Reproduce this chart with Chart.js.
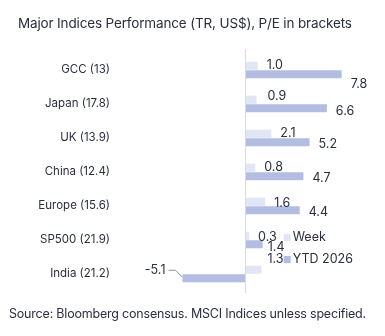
<!DOCTYPE html>
<html lang="en">
<head>
    <meta charset="UTF-8">
    <title>Major Indices Performance</title>
    <script src="https://cdn.jsdelivr.net/npm/chart.js"></script>
    <style>
        body { margin: 0; background: #fff; font-family: Inter, sans-serif; color: #2b2f3c; }
        .wrap { position: relative; width: 385px; height: 336px; }
        .title { position: absolute; left: 18px; top: 15px; font-size: 13.5px; letter-spacing: -0.15px; white-space: nowrap; }
        .source { position: absolute; left: 9px; top: 306px; font-size: 12.5px; letter-spacing: -0.2px; white-space: nowrap; }
        canvas { position: absolute; left: 0; top: 0; }
    </style>
</head>
<body>
    <div class="wrap">
        <canvas id="perfChart" width="385" height="336"></canvas>
        <div class="title">Major Indices Performance (TR, US$), P/E in brackets</div>
        <div class="source">Source: Bloomberg consensus. MSCI Indices unless specified.</div>
    </div>

    <script>
        const indices = ['GCC (13)', 'Japan (17.8)', 'UK (13.9)', 'China (12.4)', 'Europe (15.6)', 'SP500 (21.9)', 'India (21.2)'];
        const weekReturns = [1.0, 0.9, 2.1, 0.8, 1.6, 0.3, 1.3];
        const ytdReturns = [7.8, 6.6, 5.2, 4.7, 4.4, 1.4, -5.1];

        // hand nudges [dx, dy] for labels that would otherwise collide
        const weekNudge = [[0, 0], [2, -3], [0, 0], [0, 0], [0, 2], [0, 2], [-3, -10]];
        const ytdNudge = [[0, 8], [0, 1], [0, 0], [0, 0], [0, 0], [-4, 1], [0, 0]];

        const labelPlugin = {
            id: 'barLabels',
            afterDatasetsDraw(chart) {
                const ctx = chart.ctx;
                const x = chart.scales.x;
                ctx.save();
                ctx.font = '12.5px Inter, sans-serif';
                ctx.fillStyle = '#2b2f3c';
                ctx.textBaseline = 'middle';

                // zero line
                const x0 = Math.round(x.getPixelForValue(0)) + 0.5;
                ctx.strokeStyle = '#d9dbe3';
                ctx.lineWidth = 1;
                ctx.beginPath();
                ctx.moveTo(x0, chart.chartArea.top - 4);
                ctx.lineTo(x0, chart.chartArea.bottom + 2);
                ctx.stroke();

                chart.data.datasets.forEach((ds, di) => {
                    const meta = chart.getDatasetMeta(di);
                    const nudge = di === 0 ? weekNudge : ytdNudge;
                    meta.data.forEach((bar, i) => {
                        const v = ds.data[i];
                        const txt = v.toFixed(1);
                        const [dx, dy] = nudge[i];
                        const baseDy = di === 0 ? -1 : 2;
                        if (v >= 0) {
                            ctx.textAlign = 'left';
                            ctx.fillText(txt, bar.x + 9 + dx, bar.y + baseDy + dy);
                        } else {
                            // negative value: label left of the bar with a small leader
                            const tx = bar.x - 17;
                            const ty = bar.y - 8;
                            ctx.textAlign = 'right';
                            ctx.fillText(txt, tx, ty);
                            ctx.strokeStyle = '#8a90a8';
                            ctx.beginPath();
                            ctx.moveTo(tx + 3, ty);
                            ctx.lineTo(tx + 10, ty);
                            ctx.lineTo(bar.x, bar.y - 1);
                            ctx.stroke();
                        }
                    });
                });

                // legend placed inside the plot, beside the SP500 / India rows
                const y = chart.scales.y;
                const lx = x.getPixelForValue(3.1);
                const rows = [y.getPixelForValue(5) - 3, y.getPixelForValue(6) - 15];
                chart.data.datasets.forEach((ds, di) => {
                    ctx.fillStyle = ds.backgroundColor;
                    ctx.fillRect(lx, rows[di] - 3, 7, 7);
                    ctx.fillStyle = '#2b2f3c';
                    ctx.textAlign = 'left';
                    ctx.fillText(ds.label, lx + 9, rows[di]);
                });
                ctx.restore();
            }
        };

        new Chart(document.getElementById('perfChart'), {
            type: 'bar',
            data: {
                labels: indices,
                datasets: [{
                    label: 'Week',
                    data: weekReturns,
                    backgroundColor: '#e1e6f6',
                    categoryPercentage: 0.5,
                    barPercentage: 0.95
                }, {
                    label: 'YTD 2026',
                    data: ytdReturns,
                    backgroundColor: '#b3bde1',
                    categoryPercentage: 0.5,
                    barPercentage: 0.95
                }]
            },
            options: {
                indexAxis: 'y',
                responsive: false,
                animation: false,
                layout: { padding: { top: 53, bottom: 45, left: 0, right: 10 } },
                plugins: {
                    legend: { display: false },
                    tooltip: { enabled: false }
                },
                scales: {
                    x: {
                        display: false,
                        min: -10,
                        max: 10.5
                    },
                    y: {
                        afterFit(scale) { scale.width = 122; },
                        grid: { display: false, drawTicks: false },
                        border: { display: false },
                        ticks: {
                            padding: 12,
                            color: '#2b2f3c',
                            font: { family: 'Inter, sans-serif', size: 11.5 }
                        }
                    }
                }
            },
            plugins: [labelPlugin]
        });
    </script>
</body>
</html>
